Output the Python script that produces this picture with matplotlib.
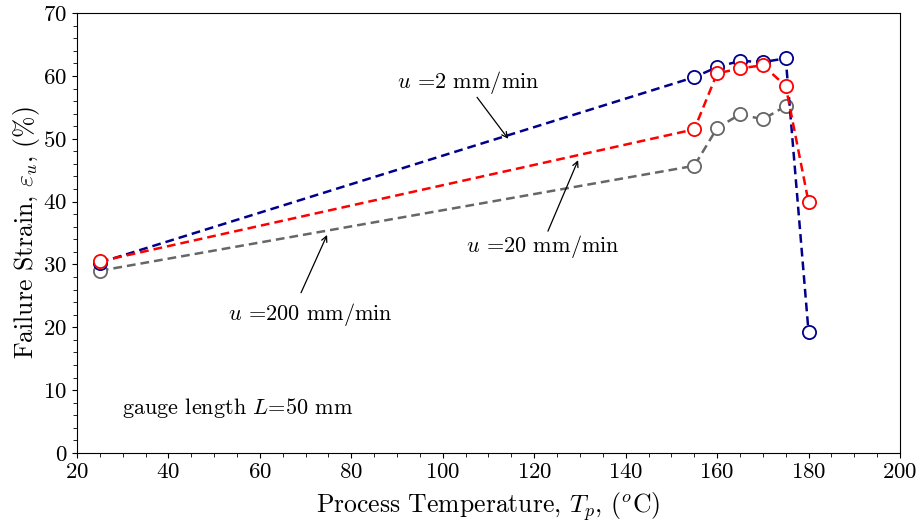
import numpy as np
import matplotlib.pyplot as plt
from matplotlib.ticker import MultipleLocator

plt.rcParams['font.family'] = 'serif'
plt.rcParams['font.serif'] = ['cmr10']
plt.rcParams['mathtext.fontset'] = 'cm'
plt.rcParams['axes.formatter.use_mathtext'] = True

# process temperature (C) and failure strain (%) per crosshead speed
temp = [25, 155, 160, 165, 170, 175, 180]
strain_2 = [30.3, 59.8, 61.4, 62.4, 62.2, 62.8, 19.2]
strain_20 = [30.5, 51.5, 60.4, 61.2, 61.7, 58.4, 39.9]
temp_200 = [25, 155, 160, 165, 170, 175]
strain_200 = [29.0, 45.7, 51.7, 53.9, 53.1, 55.2]

fig = plt.figure(figsize=(9.23, 5.24), dpi=100)
ax = fig.add_axes([0.0834, 0.1355, 0.8917, 0.8395])

style = dict(ls='--', lw=1.8, marker='o', ms=9.5, mfc='white', mew=1.3, dashes=(3.5, 2))
ax.plot(temp_200, strain_200, color='#666666', **style)
ax.plot(temp, strain_2, color='#00008B', **style)
ax.plot(temp, strain_20, color='red', **style)

# labels with pointer arrows onto each curve
arrow = dict(arrowstyle='->', color='black', lw=0.9, shrinkA=0, shrinkB=0)
ax.text(105.5, 58.9, r'$u$ =2 mm/min', fontsize=16, ha='center', va='center')
ax.annotate('', xy=(114.3, 50.0), xytext=(107.5, 56.6), arrowprops=arrow)
ax.text(121.9, 32.9, r'$u$ =20 mm/min', fontsize=16, ha='center', va='center')
ax.annotate('', xy=(129.6, 46.6), xytext=(123.0, 35.3), arrowprops=arrow)
ax.text(71.0, 22.0, r'$u$ =200 mm/min', fontsize=16, ha='center', va='center')
ax.annotate('', xy=(74.7, 34.7), xytext=(69.0, 25.5), arrowprops=arrow)

ax.text(29.8, 7.2, r'gauge length $L$=50 mm', fontsize=16, va='center')

ax.set_xlim(20, 200)
ax.set_ylim(0, 70)
ax.xaxis.set_major_locator(MultipleLocator(20))
ax.xaxis.set_minor_locator(MultipleLocator(5))
ax.yaxis.set_major_locator(MultipleLocator(10))
ax.yaxis.set_minor_locator(MultipleLocator(2))
ax.tick_params(labelsize=16.5)
ax.tick_params(which='minor', length=3)
ax.set_xlabel(r'Process Temperature, $T_p$, ($^o$C)', fontsize=18.5, labelpad=6)
ax.set_ylabel(r'Failure Strain, $\varepsilon_u$, (%)', fontsize=18.5, labelpad=1)

fig.savefig('out.png', dpi=100)
